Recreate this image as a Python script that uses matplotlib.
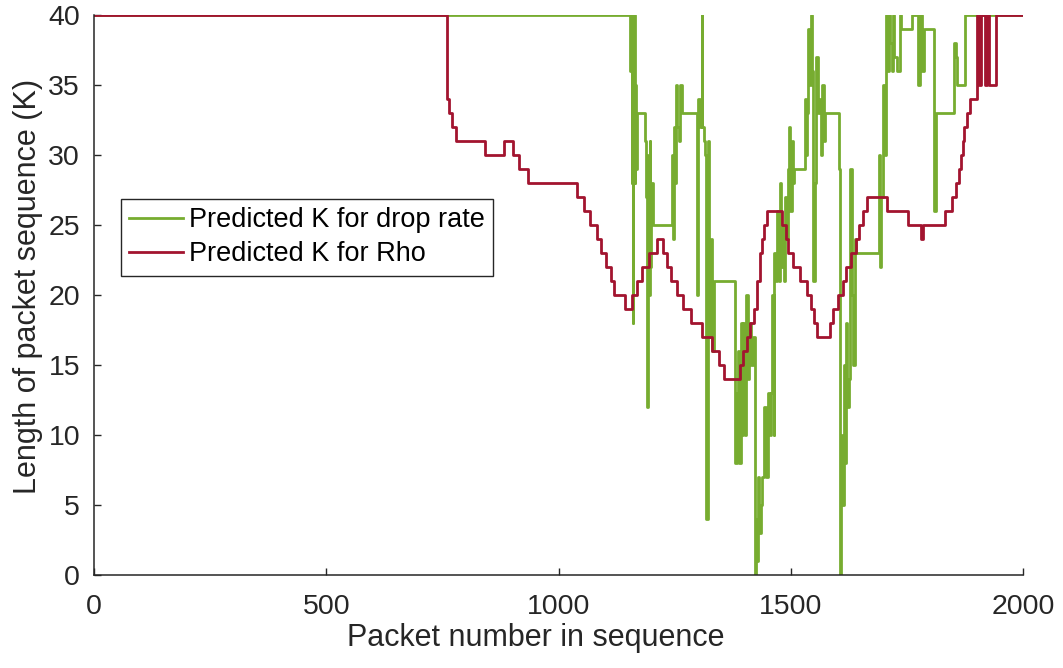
import numpy as np
import matplotlib
matplotlib.use("Agg")
import matplotlib.pyplot as plt

plt.rcParams['font.family'] = ['Liberation Sans', 'DejaVu Sans']

# predicted K for Rho: step breakpoints (packet number, K)
rho_x = [0, 760, 765, 770, 780, 842, 883, 903, 915, 935, 1040, 1055, 1068, 1082,
         1092, 1103, 1112, 1120, 1143, 1158, 1168, 1180, 1195, 1212, 1224, 1233,
         1243, 1255, 1268, 1285, 1310, 1330, 1345, 1357, 1391, 1398, 1405, 1412,
         1420, 1428, 1433, 1438, 1443, 1449, 1482, 1490, 1495, 1505, 1520, 1535,
         1543, 1550, 1557, 1585, 1592, 1602, 1612, 1620, 1630, 1640, 1648, 1655,
         1665, 1707, 1753, 1780, 1785, 1832, 1847, 1855, 1862, 1866, 1870, 1874,
         1879, 1886, 1901, 1906, 1910, 1918, 1922, 1927, 1942, 2000]
rho_k = [40, 34, 33, 32, 31, 30, 31, 30, 29, 28, 27, 26, 25, 24,
         23, 22, 21, 20, 19, 20, 21, 22, 23, 24, 23, 22,
         21, 20, 19, 18, 17, 16, 15, 14, 15, 16, 17, 18,
         19, 21, 23, 24, 25, 26, 25, 24, 23, 22, 21, 20,
         19, 18, 17, 18, 19, 20, 21, 22, 23, 24, 25, 26,
         27, 26, 25, 24, 25, 26, 27, 28, 29, 30, 31, 32,
         33, 34, 40, 35, 40, 35, 40, 35, 40, 40]

# predicted K for drop rate: step breakpoints (packet number, K)
drop_x = [0, 1155, 1157, 1158, 1159, 1160, 1161, 1162, 1163, 1164, 1165, 1167,
          1169, 1187, 1189, 1190, 1192, 1194, 1196, 1198, 1200, 1203, 1245, 1247,
          1249, 1251, 1253, 1256, 1259, 1262, 1265, 1298, 1301, 1305, 1308, 1310,
          1314, 1316, 1318, 1321, 1323, 1326, 1328, 1331, 1334, 1381, 1384, 1387,
          1389, 1392, 1395, 1398, 1402, 1404, 1407, 1411, 1415, 1419, 1422, 1424,
          1426, 1428, 1430, 1432, 1435, 1438, 1443, 1446, 1452, 1455, 1457, 1460,
          1463, 1465, 1468, 1471, 1474, 1477, 1480, 1483, 1486, 1488, 1491, 1494,
          1497, 1499, 1502, 1505, 1508, 1530, 1533, 1535, 1538, 1541, 1544, 1546,
          1548, 1552, 1555, 1559, 1562, 1565, 1568, 1571, 1574, 1604, 1606, 1609,
          1611, 1614, 1617, 1620, 1622, 1625, 1628, 1632, 1635, 1638, 1641, 1690,
          1692, 1695, 1698, 1702, 1705, 1708, 1711, 1714, 1717, 1720, 1723, 1728,
          1735, 1738, 1760, 1775, 1778, 1782, 1786, 1808, 1812, 1852, 1855, 1858,
          1875, 2000]
drop_k = [40, 36, 40, 28, 40, 18, 38, 30, 40, 28, 35, 29,
          33, 31, 27, 12, 30, 20, 31, 22, 28, 25, 30, 24,
          32, 28, 35, 32, 31, 35, 33, 20, 34, 32, 40, 32,
          31, 30, 4, 31, 20, 17, 24, 16, 21, 8, 13, 16,
          8, 18, 10, 18, 10, 20, 14, 18, 15, 17, 8, 0,
          4, 1, 7, 3, 5, 7, 12, 7, 13, 10, 13, 20,
          10, 23, 21, 26, 21, 28, 22, 25, 21, 27, 24, 29,
          32, 26, 31, 28, 29, 34, 30, 33, 39, 35, 40, 36,
          21, 28, 37, 33, 34, 30, 35, 31, 33, 29, 0, 10,
          5, 15, 8, 18, 12, 14, 29, 20, 15, 24, 23, 30,
          22, 27, 35, 30, 40, 36, 40, 38, 36, 40, 37, 36,
          40, 39, 40, 35, 40, 36, 39, 26, 33, 38, 37, 35,
          40, 40]

x_ticks = [0, 500, 1000, 1500, 2000]
y_ticks = [0, 5, 10, 15, 20, 25, 30, 35, 40]

green = '#77AC30'
red = '#A2142F'
dark = '#262626'

fig = plt.figure(figsize=(10.63, 6.68), dpi=100)
ax = fig.add_axes([94/1063, 93/668, 929/1063, 560/668])

ax.plot(drop_x, drop_k, drawstyle='steps-post', color=green, lw=2.0,
        label='Predicted K for drop rate')
ax.plot(rho_x, rho_k, drawstyle='steps-post', color=red, lw=2.0,
        label='Predicted K for Rho')

ax.set_xlim(0, 2000)
ax.set_ylim(0, 40)
ax.set_xticks(x_ticks)
ax.set_yticks(y_ticks)
ax.spines['top'].set_visible(False)
ax.spines['right'].set_visible(False)
for s in ('left', 'bottom'):
    ax.spines[s].set_color(dark)
    ax.spines[s].set_linewidth(1.1)
ax.tick_params(direction='in', length=5, width=1.0, color=dark,
               labelsize=20.5, labelcolor=dark)
ax.tick_params(axis='x', pad=14)
ax.tick_params(axis='y', pad=10)

ax.set_xlabel('Packet number in sequence', fontsize=22, color=dark)
ax.set_ylabel('Length of packet sequence (K)', fontsize=22, color=dark)
ax.xaxis.set_label_coords(0.476, -0.085)
ax.yaxis.set_label_coords(-0.055, 0.515)

leg = ax.legend(loc='upper left', bbox_to_anchor=(0.029, 0.671), borderaxespad=0,
                fontsize=19.5, fancybox=False, framealpha=1, edgecolor=dark,
                handlelength=2.0, handletextpad=0.2, borderpad=0.3,
                labelspacing=0.3)
leg.get_frame().set_linewidth(1.0)

fig.savefig('out.png', dpi=100)
